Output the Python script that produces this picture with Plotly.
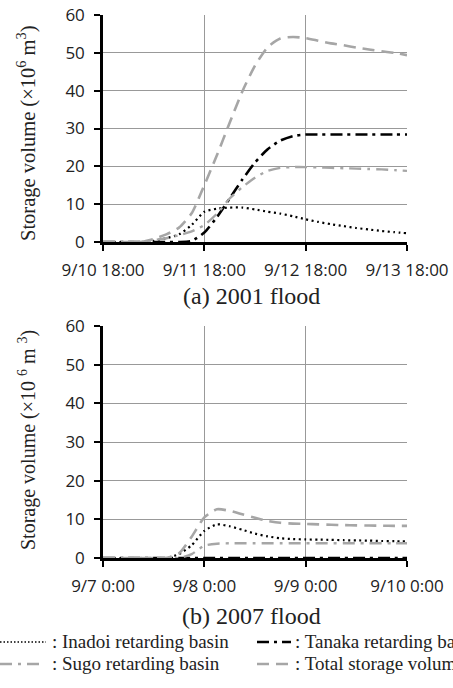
import plotly.graph_objects as go
import pandas as pd

# ---------------- data (3-hourly) ----------------
# (a) 2001 flood, from 9/10 18:00 to 9/13 18:00
t2001 = pd.date_range("2001-09-10 18:00", "2001-09-13 18:00", freq="3h")
inadoi_2001 = [0, 0, 0, 0, 0.3, 1.0, 2.0, 4.5, 8.0, 8.8, 9.1, 9.1, 8.6, 8.0, 7.5,
               6.8, 6.0, 5.3, 4.7, 4.2, 3.7, 3.3, 2.9, 2.6, 2.3]
tanaka_2001 = [0, 0, 0, 0, 0, 0, 0, 0.3, 2.5, 6.6, 11.5, 16.5, 21.0, 24.5, 26.8,
               28.0, 28.4, 28.4, 28.4, 28.4, 28.4, 28.4, 28.4, 28.4, 28.4]
sugo_2001 = [0, 0, 0, 0, 0.5, 1.0, 1.8, 2.8, 4.5, 7.5, 11.5, 14.5, 17.0, 18.8, 19.6,
             19.8, 19.8, 19.7, 19.6, 19.5, 19.4, 19.3, 19.2, 19.0, 18.8]
total_2001 = [0, 0, 0, 0, 0.8, 2.0, 3.8, 7.6, 15.0, 23.0, 31.5, 39.8, 46.6, 51.5, 53.8,
              54.2, 53.9, 53.2, 52.5, 52.0, 51.4, 50.9, 50.4, 50.0, 49.4]

# (b) 2007 flood, from 9/7 0:00 to 9/10 0:00
t2007 = pd.date_range("2007-09-07 00:00", "2007-09-10 00:00", freq="3h")
inadoi_2007 = [0, 0, 0, 0, 0, 0, 1.0, 3.3, 7.0, 8.7, 8.2, 7.3, 6.3, 5.6, 5.1,
               4.9, 4.8, 4.75, 4.7, 4.6, 4.55, 4.5, 4.4, 4.35, 4.3]
tanaka_2007 = [0] * 25
sugo_2007 = [0, 0, 0, 0, 0, 0, 0, 1.0, 3.2, 3.7, 3.8, 3.8, 3.8, 3.8, 3.8,
             3.8, 3.8, 3.8, 3.8, 3.8, 3.8, 3.8, 3.8, 3.8, 3.8]
total_2007 = [0, 0, 0, 0, 0, 0, 1.2, 5.5, 10.5, 12.6, 12.2, 11.3, 10.4, 9.6, 9.1,
              8.9, 8.8, 8.7, 8.6, 8.5, 8.45, 8.4, 8.35, 8.3, 8.3]

xtick_2001 = ["2001-09-10 18:00", "2001-09-11 18:00", "2001-09-12 18:00", "2001-09-13 18:00"]
xlab_2001 = ["9/10 18:00", "9/11 18:00", "9/12 18:00", "9/13 18:00"]
xtick_2007 = ["2007-09-07 00:00", "2007-09-08 00:00", "2007-09-09 00:00", "2007-09-10 00:00"]
xlab_2007 = ["9/7 0:00", "9/8 0:00", "9/9 0:00", "9/10 0:00"]
yticks = [0, 10, 20, 30, 40, 50, 60]

# ---------------- styles ----------------
GRAY = "#a6a6a6"
styles = {
    "inadoi": dict(color="black", width=2.2, dash="2px,3.5px"),
    "tanaka": dict(color="black", width=2.6, dash="12px,5px,3px,5px"),
    "sugo": dict(color=GRAY, width=2.4, dash="12px,6px,3px,6px"),
    "total": dict(color=GRAY, width=2.6, dash="12px,7px"),
}

W, H = 453, 688

fig = go.Figure()
for xs, sets, xa, ya in [
    (t2001, [("inadoi", inadoi_2001), ("tanaka", tanaka_2001), ("sugo", sugo_2001), ("total", total_2001)], "x", "y"),
    (t2007, [("inadoi", inadoi_2007), ("tanaka", tanaka_2007), ("sugo", sugo_2007), ("total", total_2007)], "x2", "y2"),
]:
    for name, vals in sets:
        fig.add_trace(go.Scatter(x=xs, y=vals, mode="lines", line=dict(shape="spline", smoothing=0.6, **styles[name]),
                                 xaxis=xa, yaxis=ya, showlegend=False, hoverinfo="skip"))

xdom = [103 / W, 407 / W]
tickfont = dict(family="Open Sans", size=17, color="#222")
common_x = dict(type="date", showgrid=True, gridcolor="#999", gridwidth=1.3, showline=True, linecolor="black",
                linewidth=2.5, ticks="outside", ticklen=6, tickcolor="black", tickwidth=1.5, tickfont=tickfont,
                domain=xdom, zeroline=False, fixedrange=True, automargin=False)
common_y = dict(range=[0, 60], tickvals=yticks, showgrid=True, gridcolor="#999", gridwidth=1.3, showline=True,
                linecolor="black", linewidth=2.5, ticks="outside", ticklen=6, tickcolor="black", tickwidth=1.5,
                tickfont=tickfont, zeroline=False, fixedrange=True, ticklabelstandoff=6, automargin=False)

fig.update_layout(
    width=W, height=H, margin=dict(l=0, r=0, t=0, b=0, autoexpand=False),
    paper_bgcolor="white", plot_bgcolor="white",
    xaxis=dict(range=[xtick_2001[0], xtick_2001[-1]], tickvals=xtick_2001, ticktext=xlab_2001, anchor="y",
               ticklabelstandoff=5, **common_x),
    yaxis=dict(domain=[1 - 242 / H, 1 - 15 / H], anchor="x", **common_y),
    xaxis2=dict(range=[xtick_2007[0], xtick_2007[-1]], tickvals=xtick_2007, ticktext=xlab_2007, anchor="y2",
                ticklabelstandoff=5, **common_x),
    yaxis2=dict(domain=[1 - 558 / H, 1 - 326 / H], anchor="x2", **common_y),
)

serif = "Liberation Serif"
ann = []
ann.append(dict(text="Storage volume (×10<sup>6</sup> m<sup>3</sup>)", x=26 / W, y=1 - 133 / H, textangle=-90,
                font=dict(family=serif, size=20.5, color="#222")))
ann.append(dict(text="Storage volume (×10 <sup>6</sup> m <sup>3</sup>)", x=27 / W, y=1 - 440 / H, textangle=-90,
                font=dict(family=serif, size=20, color="#222")))
ann.append(dict(text="(a) 2001 flood", x=251 / W, y=1 - 296 / H, font=dict(family=serif, size=24, color="#222")))
ann.append(dict(text="(b) 2007 flood", x=251 / W, y=1 - 616 / H, font=dict(family=serif, size=24, color="#222")))
legend_items = [
    (": Inadoi retarding basin", 50, 641),
    (": Tanaka retarding basin", 293, 641),
    (": Sugo retarding basin", 50, 663),
    (": Total storage volume", 293, 663),
]
for txt, lx, ly in legend_items:
    ann.append(dict(text=txt, x=lx / W, y=1 - ly / H, xanchor="left",
                    font=dict(family=serif, size=19, color="#222")))
for a in ann:
    a.update(xref="paper", yref="paper", showarrow=False)
    if "xanchor" not in a:
        a["xanchor"] = "center"
    a["yanchor"] = "middle"
fig.update_layout(annotations=ann)

samples = [
    ("inadoi", 0, 46, 642),
    ("tanaka", 257, 291, 642),
    ("sugo", 0, 44, 664),
    ("total", 257, 291, 664),
]
shapes = []
for name, x0, x1, yy in samples:
    st = dict(styles[name])
    if name == "inadoi":
        st["width"] = 1.6
        st["dash"] = "1.5px,2px"
    shapes.append(dict(type="line", xref="paper", yref="paper", x0=x0 / W, x1=x1 / W,
                       y0=1 - yy / H, y1=1 - yy / H, line=st))
fig.update_layout(shapes=shapes)

fig.write_html("out.html", config={"displayModeBar": False},
               post_script="document.body.style.margin='0';document.body.style.overflow='hidden';")
